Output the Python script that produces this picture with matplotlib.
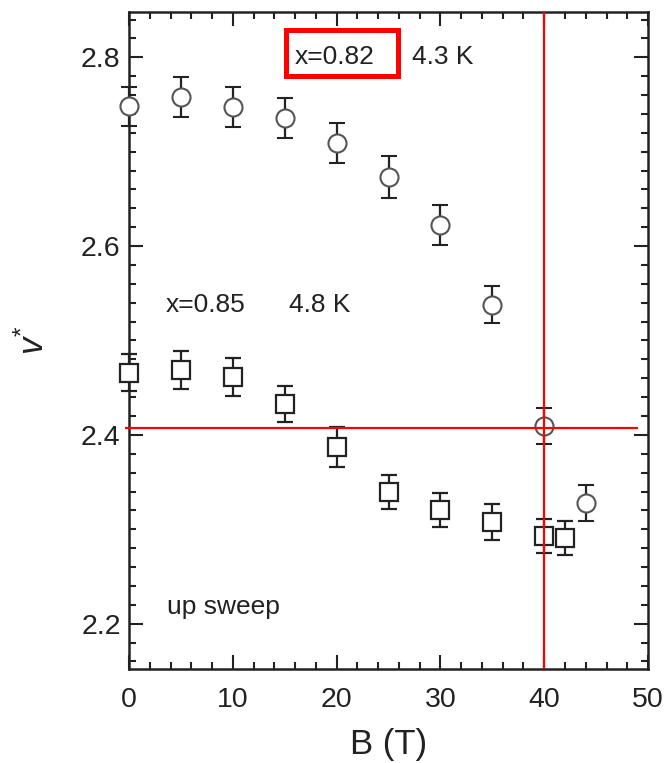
import matplotlib
matplotlib.use("Agg")
import matplotlib.pyplot as plt
from matplotlib.patches import Rectangle
from matplotlib.ticker import MultipleLocator

plt.rcParams['font.family'] = ['Liberation Sans', 'DejaVu Sans']
plt.rcParams['mathtext.fontset'] = 'custom'
plt.rcParams['mathtext.rm'] = 'Liberation Sans'
plt.rcParams['mathtext.it'] = 'Liberation Sans:italic'

# x = 0.82, 4.3 K (circles)
B_082 = [0, 5, 10, 15, 20, 25, 30, 35, 40, 44]
v_082 = [2.748, 2.758, 2.747, 2.736, 2.709, 2.673, 2.622, 2.538, 2.409, 2.328]
err_082 = [0.021, 0.021, 0.021, 0.021, 0.021, 0.022, 0.021, 0.020, 0.019, 0.019]

# x = 0.85, 4.8 K (squares)
B_085 = [0, 5, 10, 15, 20, 25, 30, 35, 40, 42]
v_085 = [2.466, 2.469, 2.461, 2.433, 2.387, 2.340, 2.320, 2.308, 2.293, 2.291]
err_085 = [0.020, 0.020, 0.020, 0.019, 0.021, 0.018, 0.018, 0.019, 0.018, 0.018]

# guide lines
B_mark = 40
v_mark = 2.407

txt = '#222222'

fig = plt.figure(figsize=(6.64, 7.63), dpi=100)
ax = fig.add_axes([0.1943, 0.1232, 0.7817, 0.8611])

ax.errorbar(B_082, v_082, yerr=err_082, fmt='o', ms=13, mfc='white',
            mec='#555555', mew=1.5, ecolor='#222222', elinewidth=1.6,
            capsize=5.5, capthick=1.6, zorder=3, clip_on=False)
ax.errorbar(B_085, v_085, yerr=err_085, fmt='s', ms=12.5, mfc='white',
            mec='#222222', mew=1.6, ecolor='#222222', elinewidth=1.6,
            capsize=5.5, capthick=1.6, zorder=3, clip_on=False)

ax.axvline(B_mark, color='red', lw=1.6, zorder=4)
ax.hlines(v_mark, -0.4, 49.0, color='red', lw=1.6, zorder=4, clip_on=False)

ax.set_xlim(0, 50)
ax.set_ylim(2.152, 2.848)
ax.xaxis.set_major_locator(MultipleLocator(10))
ax.xaxis.set_minor_locator(MultipleLocator(2))
ax.yaxis.set_major_locator(MultipleLocator(0.2))
ax.yaxis.set_minor_locator(MultipleLocator(0.02))
ax.yaxis.set_major_formatter(plt.FuncFormatter(lambda v, p: f'{v:.1f}'))

ax.tick_params(which='both', direction='in', top=True, right=True,
               colors='#222222', labelcolor=txt, labelsize=20.5, width=1.5)
ax.tick_params(which='major', length=10)
ax.tick_params(which='minor', length=5)
ax.tick_params(axis='x', pad=13)
ax.tick_params(axis='y', pad=6)
for s in ax.spines.values():
    s.set_linewidth(1.8)
    s.set_color('#222222')

ax.set_xlabel('B (T)', fontsize=25, color=txt, labelpad=11)
ax.set_ylabel(r'$v^{*}$', fontsize=25, color=txt, labelpad=22)

ax.text(16.0, 2.800, 'x=0.82', fontsize=19, color=txt, va='center')
ax.text(27.3, 2.800, '4.3 K', fontsize=19, color=txt, va='center')
ax.text(3.5, 2.538, 'x=0.85', fontsize=19, color=txt, va='center')
ax.text(15.4, 2.538, '4.8 K', fontsize=19, color=txt, va='center')
ax.text(3.7, 2.2106, 'up sweep', fontsize=19, color=txt, va='baseline')

# red frame round the x=0.82 label
ax.add_patch(Rectangle((15.1, 2.780), 10.8, 0.049, fill=False,
                       edgecolor='red', lw=3.6, zorder=5, clip_on=False))

fig.savefig('out.png', dpi=100)
